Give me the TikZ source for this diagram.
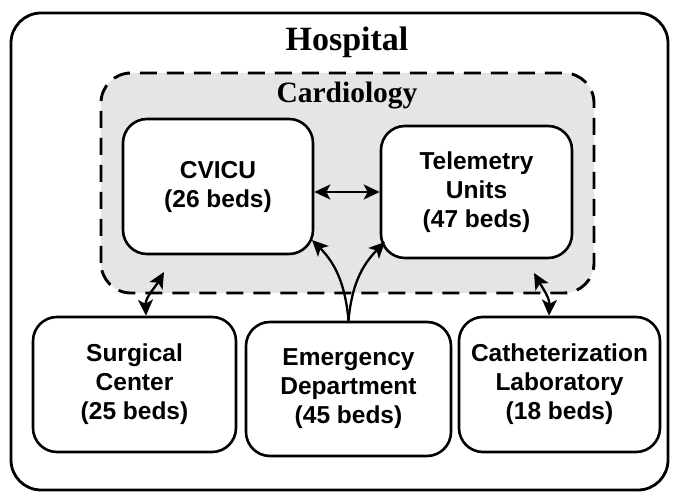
\documentclass[tikz,border=0pt]{standalone}
\usepackage{fontspec}
\setmainfont{Liberation Serif}
\setsansfont{Liberation Sans}
\usetikzlibrary{arrows.meta}
\tikzset{
  unit/.style={draw=black, line width=2.6pt, fill=white, rounded corners=24pt,
    minimum width=#1, align=center, inner sep=0pt,
    font=\sffamily\bfseries\fontsize{24.5}{29}\selectfont},
  link/.style={line width=2.3pt, -{Stealth[length=16pt,width=15pt,inset=4pt]}},
  dlink/.style={line width=2.3pt, {Stealth[length=16pt,width=15pt,inset=4pt]}-{Stealth[length=16pt,width=15pt,inset=4pt]}},
}
\begin{document}
\begin{tikzpicture}[x=1pt,y=1pt]
\useasboundingbox (0,0) rectangle (673,492);
% outer hospital box
\draw[line width=2.8pt, rounded corners=30pt] (11,2) rectangle (668,479);
\node[font=\rmfamily\bfseries\fontsize{34}{36}\selectfont, anchor=base] (hosp) at (347,441) {Hospital};
% cardiology
\draw[line width=2.9pt, dash pattern=on 17pt off 10pt, fill=black!10, rounded corners=30pt] (101,199) rectangle (594,419);
\node[font=\rmfamily\bfseries\fontsize{29.5}{31}\selectfont, anchor=base] (card) at (347,389) {Cardiology};
% units
\node[unit=190pt, minimum height=135pt] (cv) at (218,305.5) {CVICU\\(26 beds)};
\node[unit=191pt, minimum height=132pt] (tu) at (476.5,300) {Telemetry\\Units\\(47 beds)};
\node[unit=203pt, minimum height=135pt] (sc) at (134.5,107.5) {Surgical\\Center\\(25 beds)};
\node[unit=205pt, minimum height=134pt] (ed) at (348.5,103) {Emergency\\Department\\(45 beds)};
\node[unit=201pt, minimum height=135pt] (cl) at (559.5,107.5) {Catheterization\\Laboratory\\(18 beds)};
% anchor points
\coordinate (scup) at (164,220);
\coordinate (clup) at (534,219);
\coordinate (cvin) at (312,252);
\coordinate (tuin) at (385,250);
% connectors
\draw[dlink] (tu.west -| cv.east) -- (tu.west);
\draw[dlink] ([xshift=11.5pt]sc.north) to[out=92, in=-120] (scup);
\draw[dlink] ([xshift=-10.5pt]cl.north) to[out=88, in=-60] (clup);
\draw[link] (ed.north) to[out=95, in=-45] (cvin);
\draw[link] (ed.north) to[out=85, in=-135] (tuin);
\end{tikzpicture}
\end{document}
